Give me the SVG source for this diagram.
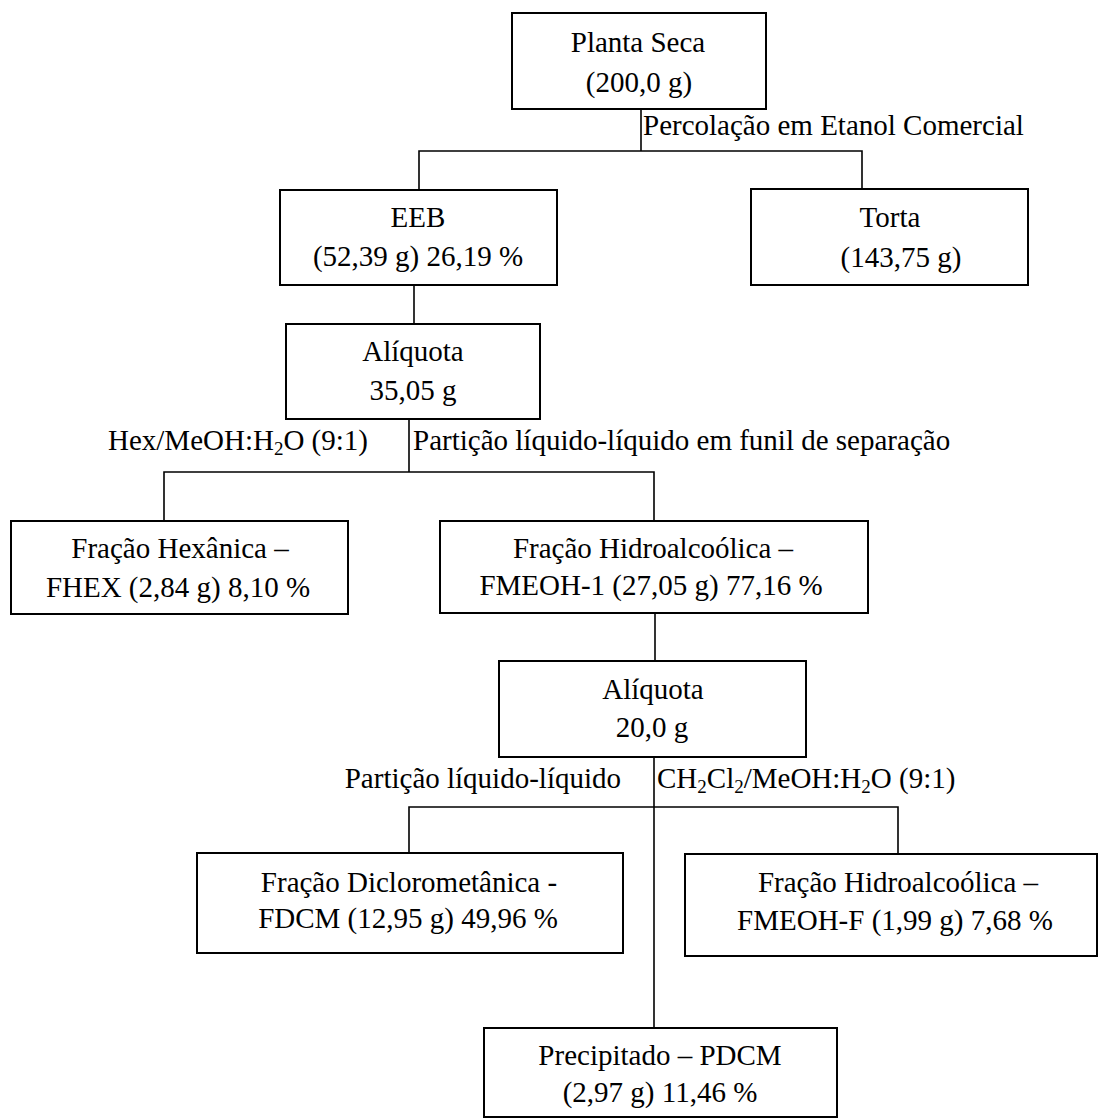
<svg xmlns="http://www.w3.org/2000/svg" width="1099" height="1119" viewBox="0 0 1099 1119" font-family="Liberation Serif, Times New Roman, Times, serif">
<style>
text{font-family:'Liberation Serif','Times New Roman',Times,serif;font-size:29px;fill:#000}
.c{text-anchor:middle}
.e{text-anchor:end}
.box{fill:#fff;stroke:#000;stroke-width:2}
.ln{fill:none;stroke:#000;stroke-width:1.6}
.sub{font-size:19px}
</style>
<rect width="1099" height="1119" fill="#fff"/>
<g id="connectors">
<polyline class="ln" points="641,109 641,151"/>
<polyline class="ln" points="419,190 419,151 862,151 862,189"/>
<polyline class="ln" points="414,285 414,324"/>
<polyline class="ln" points="409,419 409,472"/>
<polyline class="ln" points="164,521 164,472 654,472 654,521"/>
<polyline class="ln" points="655,613 655,661"/>
<polyline class="ln" points="654,757 654,1028"/>
<polyline class="ln" points="409,853 409,807 898,807 898,854"/>
</g>
<g id="labels">
<text x="643" y="135">Percolação em Etanol Comercial</text>
<text x="368" y="450" class="e">Hex/MeOH:H<tspan class="sub" dy="5">2</tspan><tspan dy="-5">O (9:1)</tspan></text>
<text x="413" y="450">Partição líquido-líquido em funil de separação</text>
<text x="621" y="788" class="e">Partição líquido-líquido</text>
<text x="657" y="788">CH<tspan class="sub" dy="5">2</tspan><tspan dy="-5">Cl</tspan><tspan class="sub" dy="5">2</tspan><tspan dy="-5">/MeOH:H</tspan><tspan class="sub" dy="5">2</tspan><tspan dy="-5">O (9:1)</tspan></text>
</g>
<g id="planta-seca">
<rect class="box" x="512" y="13" width="254" height="96"/>
<text x="638" y="52" class="c">Planta Seca</text>
<text x="639" y="92" class="c">(200,0 g)</text>
</g>
<g id="eeb">
<rect class="box" x="280" y="190" width="277" height="95"/>
<text x="418" y="227" class="c">EEB</text>
<text x="418" y="266" class="c">(52,39 g) 26,19 %</text>
</g>
<g id="torta">
<rect class="box" x="751" y="189" width="277" height="96"/>
<text x="890" y="227" class="c">Torta</text>
<text x="901" y="267" class="c">(143,75 g)</text>
</g>
<g id="aliquota-1">
<rect class="box" x="286" y="324" width="254" height="95"/>
<text x="413" y="361" class="c">Alíquota</text>
<text x="413" y="400" class="c">35,05 g</text>
</g>
<g id="fhex">
<rect class="box" x="11" y="521" width="337" height="93"/>
<text x="180" y="558" class="c">Fração Hexânica –</text>
<text x="178" y="597" class="c">FHEX (2,84 g) 8,10 %</text>
</g>
<g id="fmeoh-1">
<rect class="box" x="440" y="521" width="428" height="92"/>
<text x="653" y="558" class="c">Fração Hidroalcoólica –</text>
<text x="651" y="595" class="c">FMEOH-1 (27,05 g) 77,16 %</text>
</g>
<g id="aliquota-2">
<rect class="box" x="499" y="661" width="307" height="96"/>
<text x="653" y="699" class="c">Alíquota</text>
<text x="652" y="737" class="c">20,0 g</text>
</g>
<g id="fdcm">
<rect class="box" x="197" y="853" width="426" height="100"/>
<text x="409" y="892" class="c">Fração Diclorometânica -</text>
<text x="408" y="928" class="c">FDCM (12,95 g) 49,96 %</text>
</g>
<g id="fmeoh-f">
<rect class="box" x="685" y="854" width="412" height="102"/>
<text x="898" y="892" class="c">Fração Hidroalcoólica –</text>
<text x="895" y="930" class="c">FMEOH-F (1,99 g) 7,68 %</text>
</g>
<g id="pdcm">
<rect class="box" x="484" y="1028" width="353" height="89"/>
<text x="660" y="1065" class="c">Precipitado – PDCM</text>
<text x="660" y="1102" class="c">(2,97 g) 11,46 %</text>
</g>
</svg>
